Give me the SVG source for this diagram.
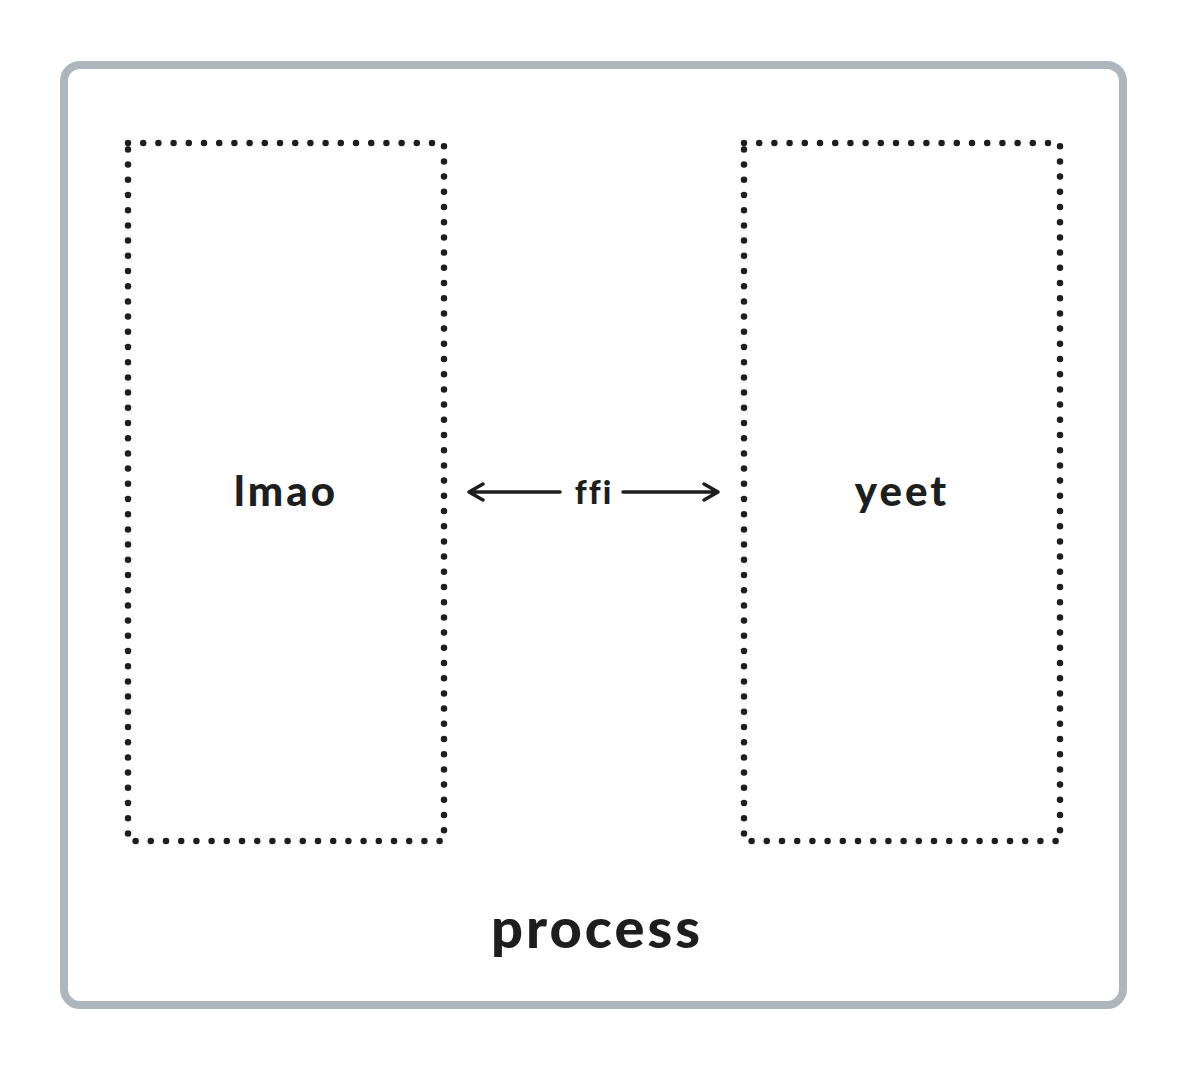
<svg xmlns="http://www.w3.org/2000/svg" width="1188" height="1070" viewBox="0 0 1188 1070">
<style>
.outer{fill:#ffffff;stroke:#adb5bd;stroke-width:8}
.dot{fill:none;stroke:#1e1e1e;stroke-width:6.5;stroke-linecap:round;stroke-dasharray:0 15.2}
.lbl{font-family:Lato,"Open Sans",sans-serif;font-weight:900;fill:#1e1e1e;text-anchor:middle;font-variant-ligatures:none}
.conn{fill:none;stroke:#1e1e1e;stroke-width:3.5;stroke-linecap:round;stroke-linejoin:round}
</style>
<rect width="1188" height="1070" fill="#ffffff"/>
<g id="process">
<rect class="outer" x="64" y="65" width="1059" height="940" rx="16"/>
<text class="lbl" x="597" y="948" font-size="56" letter-spacing="3">process</text>
</g>
<g id="lmao">
<rect class="dot" x="128" y="143" width="316" height="698"/>
<text class="lbl" x="286" y="506" font-size="42" letter-spacing="3">lmao</text>
</g>
<g id="yeet">
<rect class="dot" x="744" y="143" width="316" height="698"/>
<text class="lbl" x="902" y="506" font-size="42" letter-spacing="3">yeet</text>
</g>
<g id="connectors">
<path class="conn" d="M560 492 H469 M483 484 L469 492 L483 500"/>
<path class="conn" d="M623 492 H718 M704 484 L718 492 L704 500"/>
<text class="lbl" x="594" y="504" font-size="33" letter-spacing="2">ffi</text>
</g>
</svg>
